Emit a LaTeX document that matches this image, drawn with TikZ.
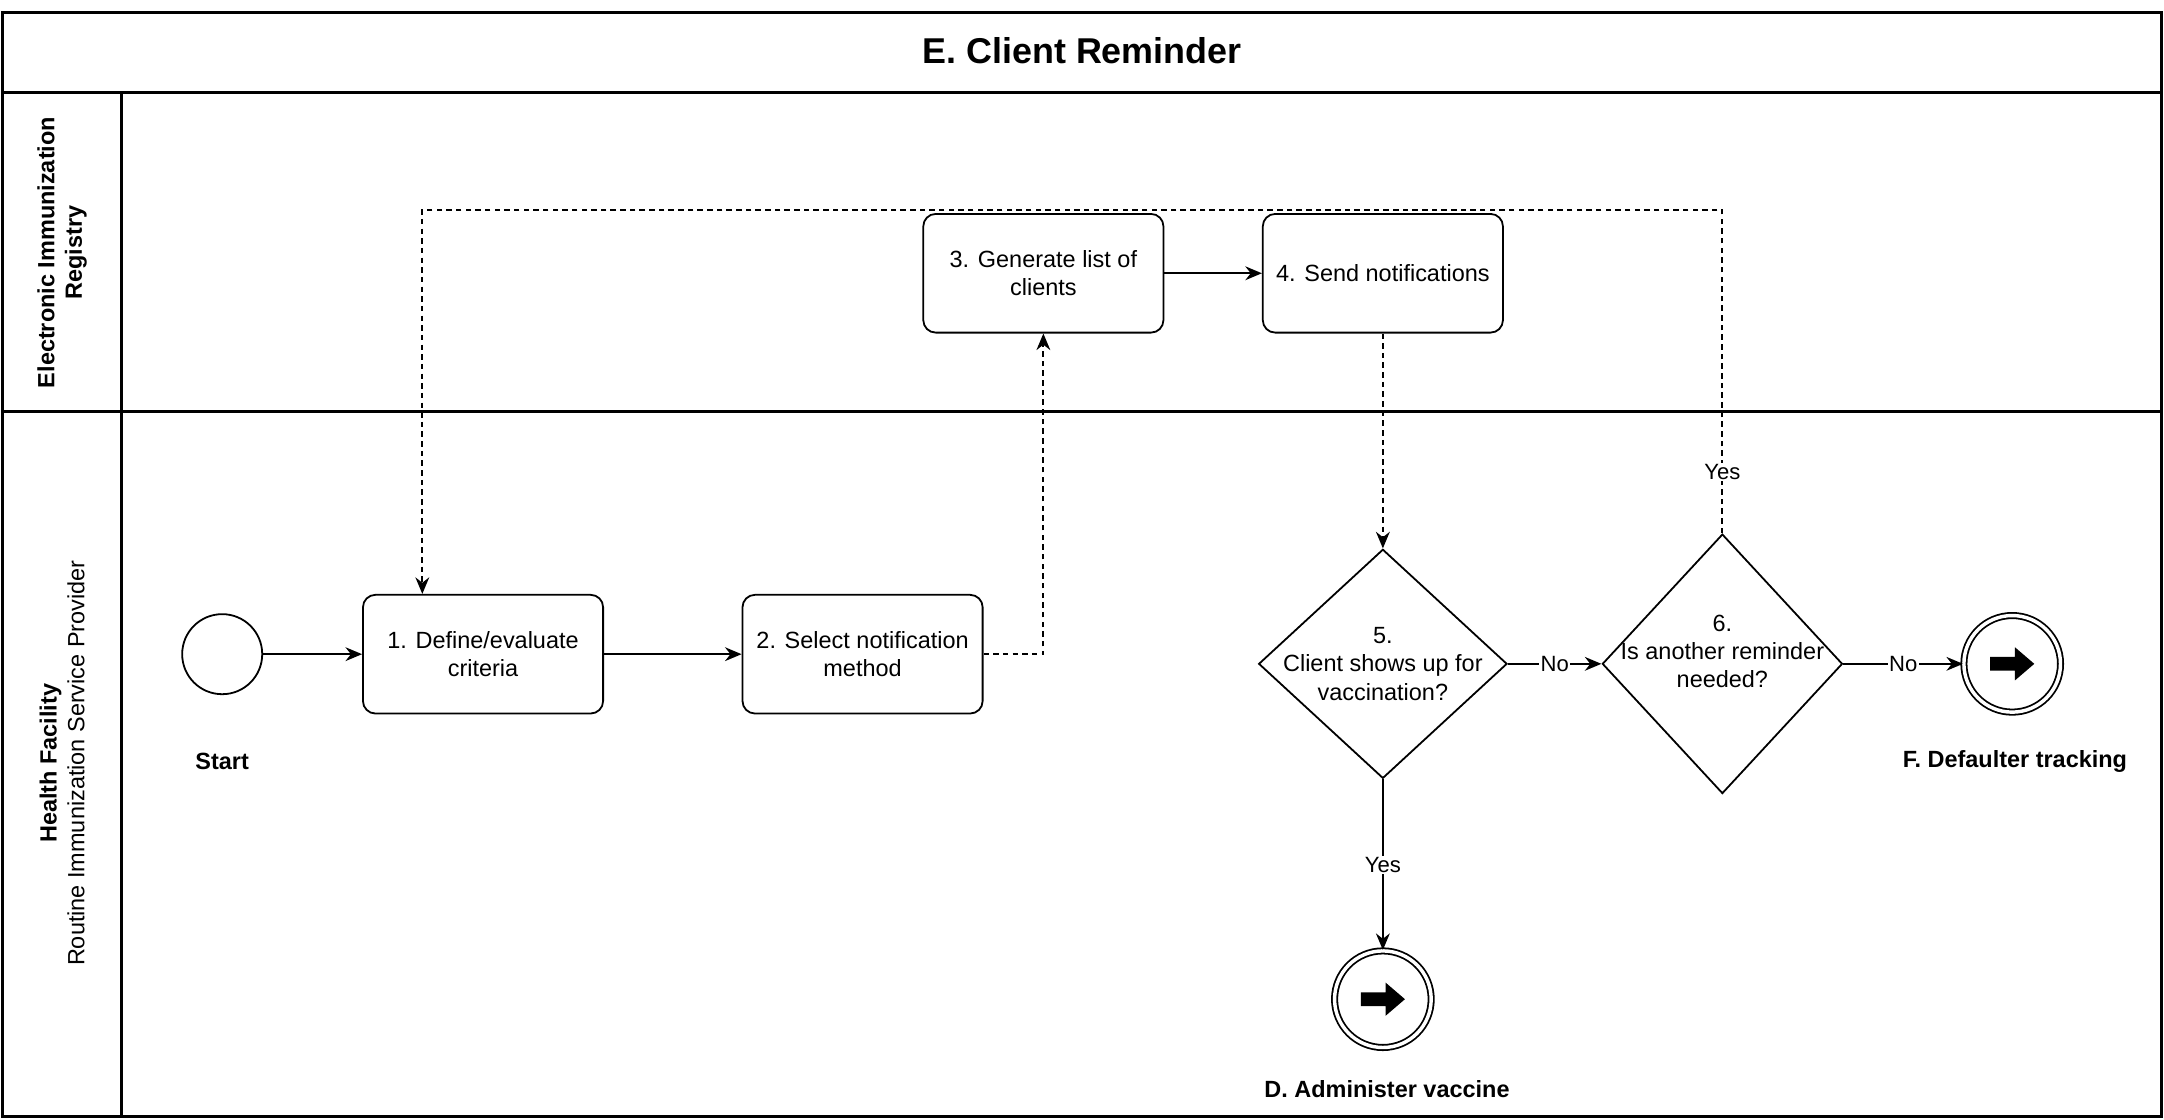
\documentclass[tikz,border=0pt]{standalone}
\usepackage{fontspec}
\setmainfont{Liberation Sans}
\usetikzlibrary{shapes.geometric,arrows.meta}
\begin{document}
\begin{tikzpicture}[x=1pt,y=-1pt,
  task/.style={draw,rounded corners=9pt,minimum width=174pt,minimum height=86pt,align=center,line width=1.3pt,font=\fontsize{17}{20.5}\selectfont},
  dec/.style={draw,diamond,line width=1.3pt,inner sep=0pt},
  dtext/.style={align=center,font=\fontsize{17}{20.5}\selectfont},
  lbl/.style={font=\bfseries\fontsize{17}{20}\selectfont},
  arr/.style={-{Stealth[length=12pt,width=10pt]},line width=1.3pt},
  darr/.style={arr,dash pattern=on 4pt off 3pt},
  elab/.style={fill=white,inner sep=1pt,font=\fontsize{16}{19}\selectfont}]
\useasboundingbox (0,0) rectangle (1568,811);
\draw[line width=2.5pt] (2,9) rectangle (1566,809);
\draw[line width=2.5pt] (2,67) -- (1566,67);
\draw[line width=2.5pt] (2,298) -- (1566,298);
\draw[line width=2.5pt] (88,67) -- (88,809);
\node[font=\bfseries\fontsize{26}{30}\selectfont] (title) at (784,37) {E. Client Reminder};
\node[rotate=90,align=center,font=\bfseries\fontsize{17}{20}\selectfont] (l1) at (45,183) {Electronic Immunization\\Registry};
\node[rotate=90,align=center,font=\fontsize{17}{20}\selectfont] (l2) at (45,553) {\textbf{Health Facility}\\Routine Immunization Service Provider};

\node[draw,circle,minimum size=58pt,line width=1.3pt] (s) at (161,474) {};
\node[lbl] (sl) at (161,552) {Start};
\node[task] (t1) at (350,474) {1. Define/evaluate\\criteria};
\node[task] (t2) at (625,474) {2. Select notification\\method};
\node[task] (t3) at (756,198) {3. Generate list of\\clients};
\node[task] (t4) at (1002,198) {4. Send notifications};
\node[dec,minimum width=180pt,minimum height=166pt] (d5) at (1002,481) {};
\node[dtext] (d5t) at (1002,481) {5.\\Client shows up for\\vaccination?};
\node[dec,minimum width=174pt,minimum height=188pt] (d6) at (1248,481) {};
\node[dtext] (d6t) at (1248,472) {6.\\Is another reminder\\needed?};
\foreach \n/\x/\y in {eF/1458/481,eD/1002/724}{
  \node[draw,circle,double,double distance=2.5pt,line width=1.3pt,minimum size=70pt] (\n) at (\x,\y) {};
  \fill (\x-16,\y-5) -- (\x+2,\y-5) -- (\x+2,\y-12) -- (\x+16,\y) -- (\x+2,\y+12) -- (\x+2,\y+5) -- (\x-16,\y+5) -- cycle;
}
\node[lbl] (fl) at (1460,552) {F. Defaulter tracking};
\node[lbl] (dl) at (1005,789) {D. Administer vaccine};

\draw[arr] (s) -- (t1);
\draw[arr] (t1) -- (t2);
\draw[darr] (t2.east) -| (t3.south);
\draw[arr] (t3) -- (t4);
\draw[darr] (t4.south) -- (d5.north);
\draw[arr] (d5.east) -- node[elab]{No} (d6.west);
\draw[arr] (d6.east) -- node[elab]{No} (eF.west);
\draw[arr] (d5.south) -- node[elab]{Yes} (eD.north);
\coordinate (c1) at (1248,152);
\coordinate (c2) at (306,152);
\draw[darr] (d6.north) -- node[elab,pos=0.19]{Yes} (c1) -- (c2) -- (c2 |- t1.north);
\end{tikzpicture}
\end{document}
